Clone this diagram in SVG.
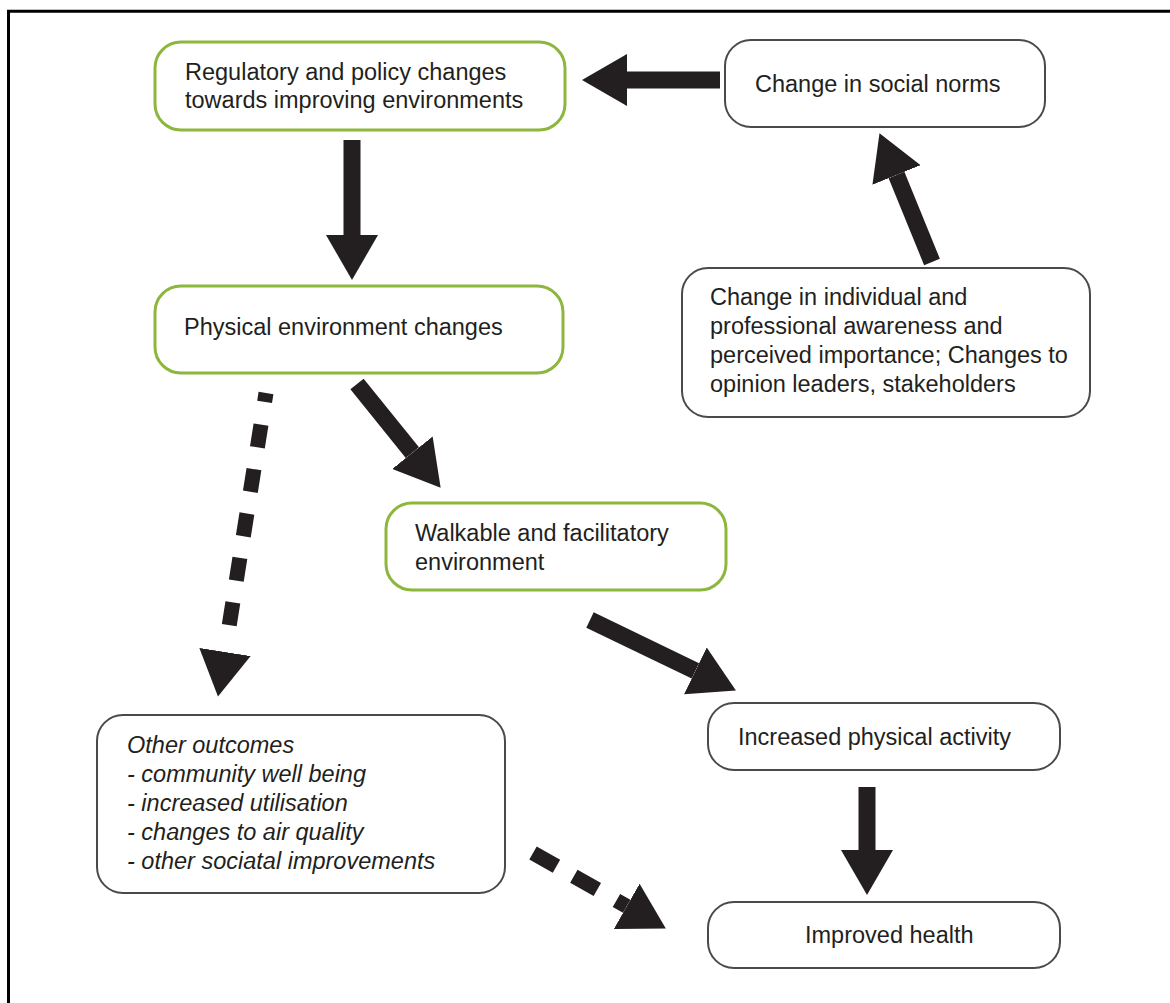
<svg xmlns="http://www.w3.org/2000/svg" width="1170" height="1003" viewBox="0 0 1170 1003">
<style>
.g{fill:#fff;stroke:#8db63c;stroke-width:3}
.b{fill:#fff;stroke:#4a4a4a;stroke-width:2}
text{font-family:"Liberation Sans",Arial,sans-serif;font-size:23.5px;fill:#231f20}
.it{font-style:italic}
.sh{stroke:#231f20;stroke-width:17;fill:none;marker-end:url(#h)}
.dsh{stroke:#231f20;stroke-width:15;fill:none;marker-end:url(#h)}
</style>
<defs>
<marker id="h" markerUnits="userSpaceOnUse" markerWidth="46" markerHeight="52" refX="0" refY="26" orient="auto" viewBox="0 0 46 52">
<path d="M0,0 L45,26 L0,52 Z" fill="#231f20"/>
</marker>
</defs>
<rect width="1170" height="1003" fill="#fff"/>
<path d="M8.5,1003 V11.3 H1170" fill="none" stroke="#000" stroke-width="3"/>

<g id="connectors">
<line class="sh" x1="720" y1="80" x2="627" y2="80"/>
<line class="sh" x1="352" y1="140" x2="352" y2="235"/>
<line class="sh" x1="932" y1="262" x2="896.5" y2="175"/>
<line class="sh" x1="357" y1="384" x2="412.4" y2="452.7"/>
<line class="sh" x1="590" y1="620" x2="695.4" y2="670.9"/>
<line class="sh" x1="867" y1="787" x2="867" y2="850"/>
<line class="dsh" x1="266" y1="393" x2="225" y2="652" stroke-dasharray="9 23 23 22 23 22 23 22 23 22 23 40"/>
<line class="dsh" x1="533" y1="853" x2="626.7" y2="906.3" stroke-dasharray="27 20 27 22 40"/>
</g>

<g id="regulatory">
<rect class="g" x="155" y="42" width="410" height="88" rx="26"/>
<text x="185" y="80">Regulatory and policy changes</text>
<text x="185" y="108">towards improving environments</text>
</g>
<g id="social-norms">
<rect class="b" x="725" y="40" width="320" height="87" rx="26"/>
<text x="755" y="92">Change in social norms</text>
</g>
<g id="physical">
<rect class="g" x="155" y="286" width="408" height="87" rx="26"/>
<text x="184" y="335">Physical environment changes</text>
</g>
<g id="awareness">
<rect class="b" x="682" y="268" width="408" height="149" rx="26"/>
<text x="710" y="305">Change in individual and</text>
<text x="710" y="334">professional awareness and</text>
<text x="710" y="363">perceived importance; Changes to</text>
<text x="710" y="392">opinion leaders, stakeholders</text>
</g>
<g id="walkable">
<rect class="g" x="386" y="503" width="340" height="87" rx="26"/>
<text x="415" y="541">Walkable and facilitatory</text>
<text x="415" y="570">environment</text>
</g>
<g id="other-outcomes">
<rect class="b" x="97" y="715" width="408" height="178" rx="26"/>
<text class="it" x="127" y="753">Other outcomes</text>
<text class="it" x="127" y="782">- community well being</text>
<text class="it" x="127" y="811">- increased utilisation</text>
<text class="it" x="127" y="840">- changes to air quality</text>
<text class="it" x="127" y="869">- other sociatal improvements</text>
</g>
<g id="physical-activity">
<rect class="b" x="708" y="703" width="352" height="67" rx="26"/>
<text x="738" y="745">Increased physical activity</text>
</g>
<g id="health">
<rect class="b" x="708" y="902" width="352" height="66" rx="26"/>
<text x="805" y="943">Improved health</text>
</g>
</svg>
